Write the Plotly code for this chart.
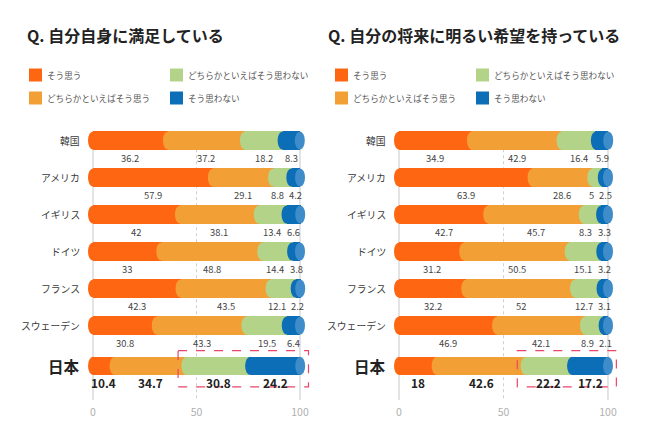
import plotly.graph_objects as go

# ---------------- data ----------------
categories = ["韓国", "アメリカ", "イギリス", "ドイツ", "フランス", "スウェーデン", "日本"]
series_names = ["そう思う", "どちらかといえばそう思う", "どちらかといえばそう思わない", "そう思わない"]
tick_values = [0, 50, 100]

left_title = "Q. 自分自身に満足している"
left_agree = [36.2, 57.9, 42, 33, 42.3, 30.8, 10.4]
left_some_agree = [37.2, 29.1, 38.1, 48.8, 43.5, 43.3, 34.7]
left_some_disagree = [18.2, 8.8, 13.4, 14.4, 12.1, 19.5, 30.8]
left_disagree = [8.3, 4.2, 6.6, 3.8, 2.2, 6.4, 24.2]

right_title = "Q. 自分の将来に明るい希望を持っている"
right_agree = [34.9, 63.9, 42.7, 31.2, 32.2, 46.9, 18]
right_some_agree = [42.9, 28.6, 45.7, 50.5, 52, 42.1, 42.6]
right_some_disagree = [16.4, 5, 8.3, 15.1, 12.7, 8.9, 22.2]
right_disagree = [5.9, 2.5, 3.3, 3.2, 3.1, 2.1, 17.2]

# ---------------- style ----------------
colors = ["#FF6612", "#F2A036", "#B3D488", "#0B6EB6"]
cap_color = "#3E8DCA"
FONT = "Noto Sans CJK JP"
W, H = 650, 423

# row positions (Japan separated by a slightly larger gap)
ypos = [0, 1, 2, 3, 4, 5, 6.09]
BAR_W = 0.49
ELL_PX = 5.0  # half width of the cylinder's elliptical cross sections, in pixels

panels = [
    dict(title=left_title, data=[left_agree, left_some_agree, left_some_disagree, left_disagree],
         px0=93, px100=300, xa="x", ya="y", title_x=25, legend_x=[29, 170]),
    dict(title=right_title, data=[right_agree, right_some_agree, right_some_disagree, right_disagree],
         px0=399, px100=608, xa="x2", ya="y2", title_x=326, legend_x=[335, 476]),
]

XMIN, XMAX = -6, 106
Y_TOP_PX, Y_BOT_PX = 120, 400
Y0_PX, Y_UNIT = 140.5, 37.0
yrange = [(Y_BOT_PX - Y0_PX) / Y_UNIT, -(Y0_PX - Y_TOP_PX) / Y_UNIT]
ydomain = [1 - Y_BOT_PX / H, 1 - Y_TOP_PX / H]

VAL_SIZE = 9.4
CHAR_PX = 5.2  # approx. width of a digit at VAL_SIZE


def text_w(s):
    return len(s) * CHAR_PX


fig = go.Figure()
shapes = []
annotations = []

for p_i, p in enumerate(panels):
    scale = (p["px100"] - p["px0"]) / 100.0
    ell = ELL_PX / scale
    left_px = p["px0"] + XMIN * scale
    right_px = p["px0"] + XMAX * scale
    axis_suffix = "" if p_i == 0 else "2"
    fig.update_layout(**{
        "xaxis" + axis_suffix: dict(domain=[left_px / W, right_px / W], range=[XMIN, XMAX],
                                    tickvals=tick_values, showgrid=False, zeroline=False,
                                    showline=False, ticks="", anchor=p["ya"],
                                    ticklabelstandoff=4,
                                    tickfont=dict(size=10.5, color="#B0B0B0", family=FONT)),
        "yaxis" + axis_suffix: dict(domain=ydomain, range=yrange, showgrid=False, zeroline=False,
                                    showline=False, showticklabels=False, anchor=p["xa"]),
    })

    data = p["data"]
    n = len(categories)
    totals = [sum(d[i] for d in data) for i in range(n)]
    starts = []
    for k in range(4):
        starts.append([sum(data[j][i] for j in range(k)) for i in range(n)])

    # grid lines (behind bars)
    for tv in tick_values:
        shapes.append(dict(type="line", xref=p["xa"], yref=p["ya"], x0=tv, x1=tv,
                           y0=-0.25, y1=yrange[0], layer="below",
                           line=dict(color="#CFCFCF" if tv == 50 else "#DDDDDD",
                                     width=1 if tv == 50 else 1.6,
                                     dash="dot" if tv == 50 else "solid")))

    # stacked bars
    for k in range(4):
        fig.add_trace(go.Bar(
            y=ypos, x=data[k], orientation="h", width=BAR_W, xaxis=p["xa"], yaxis=p["ya"],
            marker=dict(color=colors[k], line=dict(width=0)),
            name=series_names[k], showlegend=False, hoverinfo="skip"))

    # cylinder look: elliptical section at the left edge of every segment, light cap at the end
    for i in range(n):
        for k in range(4):
            sx = starts[k][i]
            shapes.append(dict(type="circle", xref=p["xa"], yref=p["ya"],
                               x0=sx - ell, x1=sx + ell,
                               y0=ypos[i] - BAR_W / 2, y1=ypos[i] + BAR_W / 2,
                               fillcolor=colors[k], line=dict(width=0), layer="above"))
        shapes.append(dict(type="circle", xref=p["xa"], yref=p["ya"],
                           x0=totals[i] - ell, x1=totals[i] + ell,
                           y0=ypos[i] - BAR_W / 2, y1=ypos[i] + BAR_W / 2,
                           fillcolor=cap_color, line=dict(width=0), layer="above"))

    # category labels
    for i, c in enumerate(categories):
        is_jp = i == n - 1
        annotations.append(dict(xref=p["xa"], yref=p["ya"], x=-5.5, y=ypos[i], text=c,
                                xanchor="right", yanchor="middle", showarrow=False,
                                font=dict(family=FONT, size=15.5 if is_jp else 9.8,
                                          color="#222" if is_jp else "#3A3A3A",
                                          weight="bold" if is_jp else "normal")))

    # value labels under each segment (green label nudged left if it would touch the blue one)
    for i in range(n):
        is_jp = i == n - 1
        centers = [starts[k][i] + data[k][i] / 2 for k in range(4)]
        texts = [f"{data[k][i]:g}" for k in range(4)]
        if not is_jp:
            gap_px = (centers[3] - centers[2]) * scale
            need_px = (text_w(texts[2]) + text_w(texts[3])) / 2 + 3
            if gap_px < need_px:
                centers[2] -= (need_px - gap_px) / scale
        for k in range(4):
            annotations.append(dict(xref=p["xa"], yref=p["ya"], x=centers[k],
                                    y=ypos[i] + (0.44 if is_jp else 0.47),
                                    text=texts[k], xanchor="center", yanchor="middle",
                                    showarrow=False,
                                    font=dict(family=FONT, size=11.8 if is_jp else VAL_SIZE,
                                              color="#222" if is_jp else "#444",
                                              weight="bold" if is_jp else "normal")))

    # dashed highlight around Japan's negative answers
    jp = n - 1
    shapes.append(dict(type="rect", xref=p["xa"], yref=p["ya"],
                       x0=starts[2][jp] - 4, x1=totals[jp] + 4,
                       y0=ypos[jp] - 0.41, y1=ypos[jp] + 0.57,
                       line=dict(color="#E8466A", width=1.2, dash="dash"), layer="above"))

    # title
    annotations.append(dict(xref="paper", yref="paper", x=p["title_x"] / W, y=1 - 35 / H,
                            text=p["title"], xanchor="left", yanchor="middle", showarrow=False,
                            font=dict(family=FONT, size=16, color="#222", weight="bold")))

    # legend (2 x 2)
    legend_layout = [(0, 0), (1, 0), (0, 1), (1, 1)]  # (row, col) per series
    for k, name in enumerate(series_names):
        row, col = legend_layout[k]
        sx = p["legend_x"][col]
        sy = 75 + row * 23
        shapes.append(dict(type="rect", xref="paper", yref="paper",
                           x0=sx / W, x1=(sx + 13) / W, y0=1 - (sy + 6.5) / H, y1=1 - (sy - 6.5) / H,
                           fillcolor=colors[k], line=dict(width=0)))
        annotations.append(dict(xref="paper", yref="paper", x=(sx + 16) / W, y=1 - sy / H,
                                text=name, xanchor="left", yanchor="middle", showarrow=False,
                                font=dict(family=FONT, size=8.6, color="#555")))

fig.update_layout(
    width=W, height=H, margin=dict(l=0, r=0, t=0, b=0),
    barmode="stack", bargap=0,
    paper_bgcolor="white", plot_bgcolor="white",
    font=dict(family=FONT),
    shapes=shapes, annotations=annotations, showlegend=False,
)

fig.write_html("out.html", config={"displayModeBar": False},
               post_script="document.body.style.margin='0px';")
